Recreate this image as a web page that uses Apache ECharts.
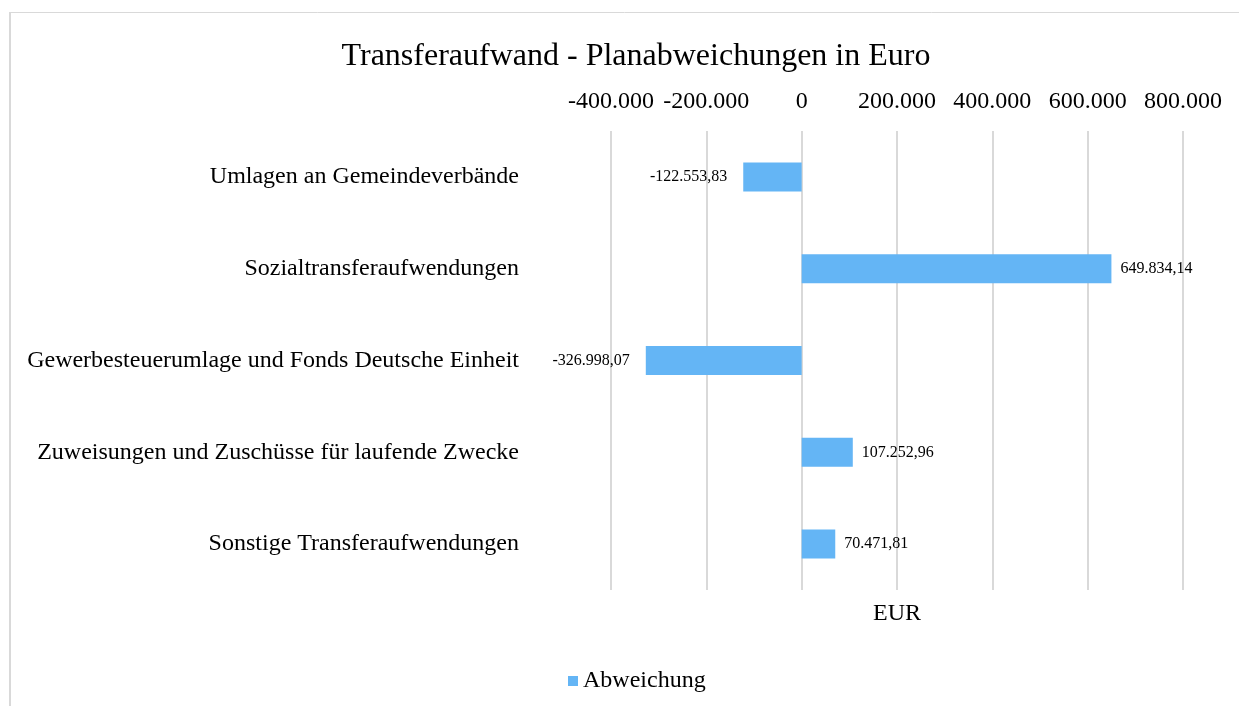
<!DOCTYPE html>
<html><head><meta charset="utf-8">
<script src="https://cdn.jsdelivr.net/npm/echarts@6/dist/echarts.min.js"></script>
<style>html,body{margin:0;padding:0;background:#fff}#c{width:1239px;height:706px}</style>
</head><body><div id="c"></div>
<script>
const categories = ["Umlagen an Gemeindeverbände","Sozialtransferaufwendungen","Gewerbesteuerumlage und Fonds Deutsche Einheit","Zuweisungen und Zuschüsse für laufende Zwecke","Sonstige Transferaufwendungen"];
const values = [-122553.83, 649834.14, -326998.07, 107252.96, 70471.81];
const seriesName = "Abweichung";
const axisMin = -400000, axisMax = 800000, axisStep = 200000;
const titleText = "Transferaufwand - Planabweichungen in Euro";
const axisName = "EUR";

const F = "'Liberation Serif','Times New Roman',serif";
function de(v, dec){
  const neg = v < 0; v = Math.abs(v);
  let s = v.toFixed(dec);
  let [i, d] = s.split('.');
  i = i.replace(/\B(?=(\d{3})+(?!\d))/g, '.');
  return (neg ? '-' : '') + i + (d ? ',' + d : '');
}
const chart = echarts.init(document.getElementById('c'));
chart.setOption({
  animation:false,
  title:{text:titleText,left:631,textAlign:'center',top:36,textStyle:{fontFamily:F,fontSize:32,fontWeight:'normal',color:'#000'}},
  legend:{data:[seriesName],left:563,top:664,itemWidth:10,itemHeight:10,itemGap:4,icon:'rect',textStyle:{fontFamily:F,fontSize:24,color:'#000'}},
  grid:{left:611,right:56,top:131,bottom:116},
  xAxis:{type:'value',position:'top',min:axisMin,max:axisMax,interval:axisStep,
    axisLine:{show:false},axisTick:{show:false},
    splitLine:{lineStyle:{color:'#d9d9d9',width:2}},
    axisLabel:{fontFamily:F,fontSize:24,color:'#000',margin:17,formatter:v=>de(v,0)}},
  yAxis:{type:'category',inverse:true,data:categories,
    axisLine:{show:false},axisTick:{show:false},
    axisLabel:{fontFamily:F,fontSize:24,color:'#000',margin:92}},
  series:[{name:seriesName,type:'bar',
    data:values.map(v=>({value:v,label:{position:v<0?'left':'right',distance:v<0?16:9}})),
    barWidth:29,itemStyle:{color:'#64B5F5'},
    label:{show:true,fontFamily:F,fontSize:16,color:'#000',formatter:p=>de(p.value,2)}}],
  graphic:[
    {type:'text',style:{x:897,y:614,text:axisName,fontFamily:F,fontSize:24,fill:'#000',align:'center',verticalAlign:'middle'}},
    {type:'line',shape:{x1:10,y1:12.5,x2:1239,y2:12.5},style:{stroke:'#d9d9d9',lineWidth:1}},
    {type:'line',shape:{x1:10,y1:12,x2:10,y2:706},style:{stroke:'#d9d9d9',lineWidth:2}}
  ]
});
</script></body></html>
